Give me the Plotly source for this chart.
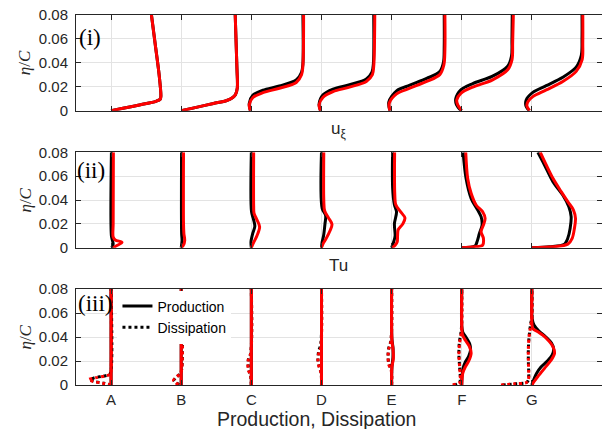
import plotly.graph_objects as go

# ---------------- data ----------------
STATIONS = ["A", "B", "C", "D", "E", "F", "G"]
Y_TICKS = [0, 0.02, 0.04, 0.06, 0.08]
Y_TICK_LABELS = ["0", "0.02", "0.04", "0.06", "0.08"]
PANEL_LABELS = ["(i)", "(ii)", "(iii)"]
X_TITLES = ["u<sub>ξ</sub>", "Tu", "Production, Dissipation"]
Y_TITLE = "<i>η</i>/<i>C</i>"
LEGEND_NAMES = ["Production", "Dissipation"]

# Panel (i): streamwise velocity profiles (offset from station, in station units)
U_A_ETA = [0, 0.002, 0.005, 0.0078, 0.0095, 0.012, 0.03, 0.055, 0.08]
U_A_RED = [0, 0.17, 0.42, 0.64, 0.70, 0.71, 0.685, 0.63, 0.575]
U_A_BLK = [0, 0.17, 0.42, 0.64, 0.70, 0.71, 0.685, 0.63, 0.575]
U_B_ETA = [0, 0.003, 0.006, 0.0085, 0.011, 0.0135, 0.019, 0.035, 0.08]
U_B_RED = [0, 0.23, 0.46, 0.65, 0.735, 0.775, 0.80, 0.795, 0.77]
U_B_BLK = [0, 0.23, 0.46, 0.65, 0.735, 0.775, 0.80, 0.795, 0.77]
U_C_ETA_RED = [0, 0.005, 0.011, 0.015, 0.0187, 0.0235, 0.030, 0.037, 0.08]
U_C_RED = [-0.014, -0.03, 0.023, 0.165, 0.40, 0.64, 0.716, 0.735, 0.745]
U_C_ETA_BLK = [0, 0.006, 0.013, 0.017, 0.0205, 0.0255, 0.032, 0.039, 0.08]
U_C_BLK = [-0.014, -0.03, 0.023, 0.165, 0.40, 0.64, 0.716, 0.735, 0.735]
U_D_ETA_RED = [0, 0.0048, 0.0112, 0.0159, 0.0196, 0.0243, 0.030, 0.037, 0.08]
U_D_RED = [-0.014, -0.034, 0.023, 0.165, 0.40, 0.64, 0.726, 0.745, 0.76]
U_D_ETA_BLK = [0, 0.0055, 0.0132, 0.0179, 0.0216, 0.0263, 0.032, 0.039, 0.08]
U_D_BLK = [-0.014, -0.034, 0.023, 0.165, 0.40, 0.64, 0.72, 0.74, 0.745]
U_E_ETA_RED = [0, 0.0062, 0.014, 0.0187, 0.0243, 0.030, 0.038, 0.051, 0.08]
U_E_RED = [-0.024, -0.034, 0.071, 0.26, 0.50, 0.687, 0.745, 0.76, 0.76]
U_E_ETA_BLK = [0, 0.0072, 0.0165, 0.0212, 0.0268, 0.0325, 0.0405, 0.053, 0.08]
U_E_BLK = [-0.024, -0.04, 0.071, 0.26, 0.50, 0.687, 0.74, 0.75, 0.75]
U_F_ETA_RED = [0, 0.0048, 0.009, 0.0146, 0.0196, 0.0257, 0.034, 0.0425, 0.0565, 0.08]
U_F_RED = [0, -0.057, -0.071, -0.009, 0.157, 0.44, 0.655, 0.717, 0.726, 0.736]
U_F_ETA_BLK = [0, 0.005, 0.010, 0.0176, 0.0226, 0.0287, 0.037, 0.0455, 0.059, 0.08]
U_F_BLK = [-0.01, -0.075, -0.085, -0.009, 0.157, 0.44, 0.655, 0.71, 0.716, 0.72]
U_G_ETA_RED = [0, 0.0039, 0.0075, 0.0117, 0.0173, 0.0243, 0.0327, 0.0425, 0.0565, 0.08]
U_G_RED = [-0.033, -0.071, -0.057, 0.014, 0.205, 0.441, 0.632, 0.717, 0.726, 0.726]
U_G_ETA_BLK = [0, 0.004, 0.009, 0.0152, 0.0208, 0.0278, 0.0362, 0.046, 0.060, 0.08]
U_G_BLK = [-0.04, -0.085, -0.08, 0.014, 0.205, 0.441, 0.632, 0.705, 0.715, 0.715]

# Panel (ii): turbulence intensity profiles
TU_A_ETA_RED = [0, 0.002, 0.0045, 0.0065, 0.009, 0.02, 0.08]
TU_A_RED = [0.03, 0.09, 0.156, 0.06, 0.03, 0.03, 0.033]
TU_A_ETA_BLK = [0, 0.003, 0.006, 0.01, 0.08]
TU_A_BLK = [0.01, 0.03, 0.02, 0.005, 0.005]
TU_B_ETA_RED = [0, 0.002, 0.006, 0.012, 0.02, 0.08]
TU_B_RED = [0.0, 0.03, 0.05, 0.038, 0.033, 0.033]
TU_B_ETA_BLK = [0, 0.006, 0.012, 0.08]
TU_B_BLK = [0.0, 0.012, 0.006, 0.005]
TU_C_ETA_RED = [0, 0.004, 0.010, 0.0175, 0.024, 0.029, 0.035, 0.08]
TU_C_RED = [0.0, 0.03, 0.08, 0.118, 0.075, 0.038, 0.033, 0.033]
TU_C_ETA_BLK = [0, 0.005, 0.012, 0.018, 0.024, 0.030, 0.08]
TU_C_BLK = [0.0, -0.005, 0.02, 0.05, 0.03, 0.003, 0.0]
TU_D_ETA_RED = [0, 0.003, 0.008, 0.014, 0.0196, 0.025, 0.031, 0.040, 0.08]
TU_D_RED = [0.0, 0.02, 0.07, 0.12, 0.15, 0.10, 0.045, 0.033, 0.033]
TU_D_ETA_BLK = [0, 0.005, 0.010, 0.020, 0.027, 0.033, 0.08]
TU_D_BLK = [0.0, 0.01, 0.03, 0.05, 0.06, 0.01, 0.0]
TU_E_ETA_RED = [0, 0.002, 0.005, 0.010, 0.015, 0.020, 0.025, 0.030, 0.036, 0.045, 0.08]
TU_E_RED = [0.01, 0.05, 0.08, 0.085, 0.094, 0.16, 0.19, 0.13, 0.06, 0.045, 0.043]
TU_E_ETA_BLK = [0, 0.005, 0.010, 0.020, 0.030, 0.036, 0.050, 0.08]
TU_E_BLK = [0.0, 0.03, 0.05, 0.04, 0.07, 0.04, 0.015, 0.014]
TU_F_ETA_RED = [0, 0.0015, 0.0023, 0.0079, 0.0134, 0.019, 0.0247, 0.030, 0.0358, 0.0456, 0.058, 0.08]
TU_F_RED = [0.0, 0.28, 0.30, 0.309, 0.276, 0.309, 0.333, 0.30, 0.205, 0.134, 0.085, 0.057]
TU_F_ETA_BLK = [0, 0.0015, 0.005, 0.012, 0.019, 0.026, 0.0316, 0.0414, 0.058, 0.08]
TU_F_BLK = [0.0, 0.19, 0.218, 0.252, 0.29, 0.276, 0.228, 0.134, 0.062, 0.02]
TU_G_ETA_RED = [0, 0.0008, 0.003, 0.0079, 0.0163, 0.0246, 0.0316, 0.0386, 0.047, 0.0582, 0.0694, 0.08]
TU_G_RED = [0.0, 0.30, 0.512, 0.575, 0.607, 0.622, 0.593, 0.512, 0.418, 0.30, 0.205, 0.12]
TU_G_ETA_BLK = [0, 0.0008, 0.003, 0.0079, 0.0163, 0.026, 0.0344, 0.0442, 0.0554, 0.0694, 0.08]
TU_G_BLK = [0.0, 0.25, 0.465, 0.512, 0.546, 0.56, 0.527, 0.44, 0.30, 0.18, 0.085]

# Panel (iii): production (solid) and dissipation (dotted)
PR_FLAT_ETA = [0, 0.08]
PR_FLAT = [0, 0]
PR_E_ETA_RED = [0, 0.015, 0.022, 0.030, 0.037, 0.08]
PR_E_RED = [0, 0.005, 0.025, 0.02, 0.005, 0]
PR_E_ETA_BLK = [0, 0.015, 0.023, 0.031, 0.038, 0.08]
PR_E_BLK = [0, 0.005, 0.02, 0.02, 0.005, 0]
PR_F_ETA_RED = [0, 0.005, 0.010, 0.015, 0.020, 0.0265, 0.032, 0.037, 0.042, 0.050, 0.08]
PR_F_RED = [0, 0.005, 0.015, 0.05, 0.10, 0.134, 0.11, 0.055, 0.01, 0, 0]
PR_F_ETA_BLK = [0, 0.008, 0.014, 0.019, 0.024, 0.029, 0.034, 0.039, 0.044, 0.050, 0.08]
PR_F_BLK = [0, 0.005, 0.02, 0.05, 0.10, 0.125, 0.115, 0.07, 0.015, 0, 0]
PR_G_ETA_RED = [0, 0.0014, 0.007, 0.0139, 0.0208, 0.0264, 0.032, 0.039, 0.0444, 0.047, 0.052, 0.08]
PR_G_RED = [0, 0.014, 0.085, 0.18, 0.276, 0.323, 0.30, 0.205, 0.085, 0.014, 0.0, 0]
PR_G_ETA_BLK = [0, 0.005, 0.010, 0.015, 0.020, 0.025, 0.030, 0.035, 0.040, 0.045, 0.050, 0.055, 0.08]
PR_G_BLK = [0, 0.03, 0.07, 0.13, 0.22, 0.29, 0.31, 0.28, 0.20, 0.10, 0.03, 0.005, 0]

DI_A_ETA = [0, 0.0015, 0.003, 0.0045, 0.006, 0.0075, 0.009, 0.012, 0.08]
DI_A_RED = [0, -0.12, -0.26, -0.32, -0.22, -0.08, -0.01, 0, 0]
DI_A_BLK = [0, -0.10, -0.24, -0.30, -0.24, -0.10, -0.02, 0, 0]
DI_B_ETA = [0, 0.002, 0.004, 0.006, 0.0085, 0.011, 0.08]
DI_B_RED = [-0.04, -0.08, -0.11, -0.08, -0.03, 0, 0]
DI_B_BLK = [-0.03, -0.07, -0.10, -0.08, -0.03, 0, 0]
DI_C_ETA = [0, 0.008, 0.012, 0.017, 0.022, 0.026, 0.08]
DI_C_RED = [0, -0.01, -0.04, -0.05, -0.04, -0.01, 0]
DI_C_BLK = [0, -0.01, -0.035, -0.045, -0.04, -0.01, 0]
DI_D_ETA_RED = [0, 0.010, 0.014, 0.020, 0.026, 0.031, 0.08]
DI_D_RED = [0, -0.005, -0.03, -0.05, -0.04, -0.01, 0]
DI_D_ETA_BLK = [0, 0.010, 0.015, 0.021, 0.028, 0.034, 0.08]
DI_D_BLK = [0, -0.005, -0.03, -0.05, -0.04, -0.01, 0]
DI_E_ETA_RED = [0, 0.012, 0.017, 0.024, 0.030, 0.036, 0.08]
DI_E_RED = [0, -0.005, -0.04, -0.05, -0.04, -0.01, 0]
DI_E_ETA_BLK = [0, 0.013, 0.018, 0.025, 0.031, 0.037, 0.08]
DI_E_BLK = [0, -0.005, -0.04, -0.05, -0.04, -0.01, 0]
DI_F_ETA_RED = [0, 0.002, 0.005, 0.015, 0.025, 0.035, 0.042, 0.050, 0.08]
DI_F_RED = [-0.13, -0.03, -0.02, -0.03, -0.04, -0.03, -0.01, 0, 0]
DI_F_ETA_BLK = [0, 0.002, 0.005, 0.015, 0.025, 0.035, 0.044, 0.052, 0.08]
DI_F_BLK = [-0.11, -0.03, -0.02, -0.03, -0.04, -0.035, -0.01, 0, 0]
DI_G_ETA_RED = [0, 0.001, 0.002, 0.004, 0.010, 0.020, 0.030, 0.040, 0.048, 0.055, 0.08]
DI_G_RED = [-0.44, -0.25, -0.08, -0.05, -0.045, -0.05, -0.05, -0.04, -0.02, 0, 0]
DI_G_ETA_BLK = [0, 0.001, 0.002, 0.004, 0.010, 0.020, 0.030, 0.040, 0.050, 0.057, 0.08]
DI_G_BLK = [-0.42, -0.24, -0.08, -0.05, -0.045, -0.05, -0.05, -0.04, -0.02, 0, 0]

# ---------------- series assembly ----------------
U_RED = [(U_A_ETA, U_A_RED), (U_B_ETA, U_B_RED), (U_C_ETA_RED, U_C_RED), (U_D_ETA_RED, U_D_RED),
         (U_E_ETA_RED, U_E_RED), (U_F_ETA_RED, U_F_RED), (U_G_ETA_RED, U_G_RED)]
U_BLK = [(U_A_ETA, U_A_BLK), (U_B_ETA, U_B_BLK), (U_C_ETA_BLK, U_C_BLK), (U_D_ETA_BLK, U_D_BLK),
         (U_E_ETA_BLK, U_E_BLK), (U_F_ETA_BLK, U_F_BLK), (U_G_ETA_BLK, U_G_BLK)]
TU_RED = [(TU_A_ETA_RED, TU_A_RED), (TU_B_ETA_RED, TU_B_RED), (TU_C_ETA_RED, TU_C_RED), (TU_D_ETA_RED, TU_D_RED),
          (TU_E_ETA_RED, TU_E_RED), (TU_F_ETA_RED, TU_F_RED), (TU_G_ETA_RED, TU_G_RED)]
TU_BLK = [(TU_A_ETA_BLK, TU_A_BLK), (TU_B_ETA_BLK, TU_B_BLK), (TU_C_ETA_BLK, TU_C_BLK), (TU_D_ETA_BLK, TU_D_BLK),
          (TU_E_ETA_BLK, TU_E_BLK), (TU_F_ETA_BLK, TU_F_BLK), (TU_G_ETA_BLK, TU_G_BLK)]
PR_RED = [(PR_FLAT_ETA, PR_FLAT)] * 4 + [(PR_E_ETA_RED, PR_E_RED), (PR_F_ETA_RED, PR_F_RED), (PR_G_ETA_RED, PR_G_RED)]
PR_BLK = [(PR_FLAT_ETA, PR_FLAT)] * 4 + [(PR_E_ETA_BLK, PR_E_BLK), (PR_F_ETA_BLK, PR_F_BLK), (PR_G_ETA_BLK, PR_G_BLK)]
DI_RED = [(DI_A_ETA, DI_A_RED), (DI_B_ETA, DI_B_RED), (DI_C_ETA, DI_C_RED), (DI_D_ETA_RED, DI_D_RED),
          (DI_E_ETA_RED, DI_E_RED), (DI_F_ETA_RED, DI_F_RED), (DI_G_ETA_RED, DI_G_RED)]
DI_BLK = [(DI_A_ETA, DI_A_BLK), (DI_B_ETA, DI_B_BLK), (DI_C_ETA, DI_C_BLK), (DI_D_ETA_BLK, DI_D_BLK),
          (DI_E_ETA_BLK, DI_E_BLK), (DI_F_ETA_BLK, DI_F_BLK), (DI_G_ETA_BLK, DI_G_BLK)]


def join(profiles):
    xs, ys = [], []
    for k, (eta, dx) in enumerate(profiles):
        xs += [k + 1 + d for d in dx] + [None]
        ys += list(eta) + [None]
    return xs, ys


# ---------------- layout geometry (pixels) ----------------
W, H = 602, 429
L, R, T, B = 75.5, 0, 14, 44
PW, PH = W - L - R, H - T - B
PANELS_PX = [(14.5, 110.7), (152.3, 247.7), (289.0, 385.0)]


def px_x(px):
    return (px - L) / PW


def px_y(py):
    return (H - B - py) / PH


FONT = "Liberation Sans"
SERIF = "Liberation Serif"
AXC = "#262626"
GRID = "#e3e3e3"

fig = go.Figure()

panel_series = [
    [(U_BLK, "black", "solid", None), (U_RED, "red", "solid", None)],
    [(TU_BLK, "black", "solid", None), (TU_RED, "red", "solid", None)],
    [(PR_BLK, "black", "solid", LEGEND_NAMES[0]), (DI_BLK, "black", "dot", LEGEND_NAMES[1]),
     (PR_RED, "red", "solid", None), (DI_RED, "red", "dot", None)],
]

for i, series in enumerate(panel_series):
    ax = "" if i == 0 else str(i + 1)
    for prof, col, dash, name in series:
        xs, ys = join(prof)
        fig.add_trace(go.Scatter(
            x=xs, y=ys, mode="lines", xaxis="x" + ax, yaxis="y" + ax,
            line=dict(color=col, width=3, dash=dash, shape="spline", smoothing=0.9),
            name=name if name else col, showlegend=bool(name), connectgaps=False,
            hoverinfo="skip"))

layout = dict(
    width=W, height=H, margin=dict(l=L, r=R, t=T, b=B),
    paper_bgcolor="white", plot_bgcolor="white",
    font=dict(family=FONT, size=15, color=AXC),
    showlegend=True,
    legend=dict(x=px_x(117), y=px_y(290.5), xanchor="left", yanchor="top",
                bgcolor="white", borderwidth=0, font=dict(family=FONT, size=14, color="black"),
                itemwidth=30, tracegroupgap=0),
)

for i, (top, bot) in enumerate(PANELS_PX):
    sfx = "" if i == 0 else str(i + 1)
    dom = [px_y(bot), min(1.0, px_y(top))]
    layout["xaxis" + sfx] = dict(
        domain=[0, 1], range=[0.5, 8], anchor="y" + sfx,
        tickmode="array", tickvals=list(range(1, len(STATIONS) + 1)), ticktext=STATIONS,
        showticklabels=(i == 2), ticks="inside", ticklen=5, tickcolor=AXC, tickwidth=1,
        showline=True, linecolor=AXC, linewidth=1, mirror="ticks",
        showgrid=True, gridcolor=GRID, gridwidth=1, zeroline=False,
        tickfont=dict(family=FONT, size=15, color=AXC), ticklabelstandoff=1)
    layout["yaxis" + sfx] = dict(
        domain=dom, range=[0, 0.08], anchor="x" + sfx,
        tickmode="array", tickvals=Y_TICKS, ticktext=Y_TICK_LABELS,
        ticks="inside", ticklen=5, tickcolor=AXC, tickwidth=1,
        showline=True, linecolor=AXC, linewidth=1, mirror="ticks",
        showgrid=True, gridcolor=GRID, gridwidth=1, zeroline=False,
        tickfont=dict(family=FONT, size=15, color=AXC), ticklabelstandoff=4)

fig.update_layout(**layout)

annotations = []
label_px = [(78, 37.5), (76, 170.5), (77, 303)]
for (lx, ly), txt in zip(label_px, PANEL_LABELS):
    annotations.append(dict(x=px_x(lx), y=px_y(ly), xref="paper", yref="paper", text=txt,
                            showarrow=False, xanchor="left", yanchor="middle",
                            font=dict(family=SERIF, size=23, color="black"), borderpad=0))
for top, bot in PANELS_PX:
    annotations.append(dict(x=px_x(24), y=px_y((top + bot) / 2), xref="paper", yref="paper",
                            text=Y_TITLE, showarrow=False, textangle=-90,
                            xanchor="center", yanchor="middle",
                            font=dict(family=SERIF, size=17, color=AXC)))
title_px = [(338, 130, 17), (338, 265, 17), (316, 418.5, 19.5)]
for (tx, ty, fs), txt in zip(title_px, X_TITLES):
    annotations.append(dict(x=px_x(tx), y=px_y(ty), xref="paper", yref="paper", text=txt,
                            showarrow=False, xanchor="center", yanchor="middle",
                            font=dict(family=FONT, size=fs, color=AXC), borderpad=0))
fig.update_layout(annotations=annotations)

fig.write_html("out.html")
